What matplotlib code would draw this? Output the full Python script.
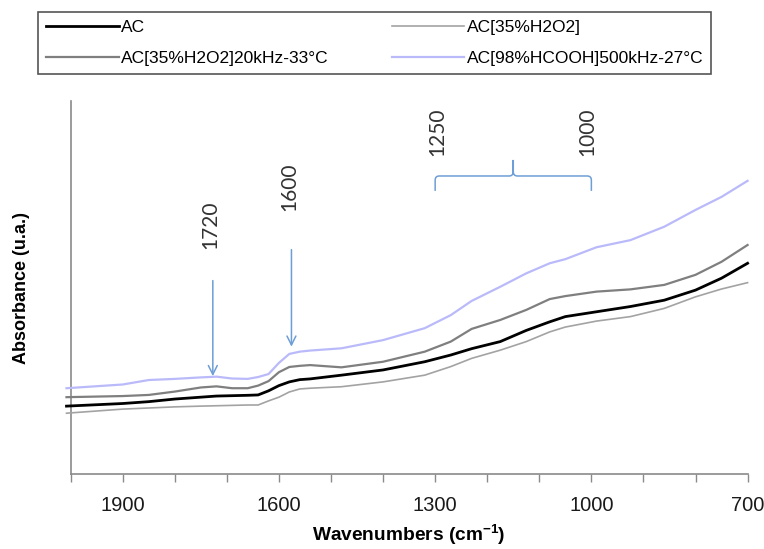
import matplotlib
matplotlib.use("Agg")
import matplotlib.pyplot as plt
from matplotlib.path import Path
from matplotlib.patches import PathPatch

plt.rcParams["font.family"] = ["Liberation Sans", "DejaVu Sans"]
plt.rcParams["mathtext.fontset"] = "custom"
plt.rcParams["mathtext.rm"] = "Liberation Sans:bold"
plt.rcParams["mathtext.default"] = "rm"

# wavenumbers (cm-1)
wavenumber = [2008, 1900, 1850, 1800, 1750, 1720, 1690, 1660, 1640, 1620,
              1600, 1580, 1560, 1540, 1480, 1400, 1320, 1270, 1230, 1175,
              1125, 1080, 1050, 990, 925, 860, 800, 750, 700]

# absorbance (arbitrary units)
abs_ac = [0.182, 0.189, 0.194, 0.201, 0.206, 0.209, 0.210, 0.211, 0.212, 0.223,
          0.237, 0.247, 0.253, 0.255, 0.265, 0.279, 0.301, 0.319, 0.336, 0.355,
          0.385, 0.408, 0.422, 0.435, 0.449, 0.466, 0.493, 0.525, 0.565]
abs_h2o2 = [0.163, 0.174, 0.177, 0.180, 0.182, 0.183, 0.184, 0.185, 0.185, 0.196,
            0.206, 0.220, 0.228, 0.230, 0.234, 0.247, 0.265, 0.288, 0.310, 0.332,
            0.355, 0.381, 0.394, 0.410, 0.422, 0.444, 0.475, 0.496, 0.513]
abs_h2o2_20k = [0.206, 0.209, 0.212, 0.221, 0.232, 0.235, 0.230, 0.230, 0.237, 0.249,
                0.273, 0.287, 0.290, 0.292, 0.286, 0.301, 0.328, 0.355, 0.389, 0.413,
                0.440, 0.469, 0.477, 0.489, 0.495, 0.507, 0.534, 0.569, 0.614]
abs_hcooh_500k = [0.230, 0.240, 0.252, 0.255, 0.259, 0.261, 0.256, 0.255, 0.260, 0.268,
                  0.298, 0.322, 0.328, 0.331, 0.337, 0.359, 0.391, 0.426, 0.464, 0.502,
                  0.538, 0.565, 0.576, 0.608, 0.627, 0.663, 0.708, 0.743, 0.786]

labels = ["AC", "AC[35%H2O2]", "AC[35%H2O2]20kHz-33°C", "AC[98%HCOOH]500kHz-27°C"]

tick_pos = list(range(2000, 699, -100))
tick_lab = ["" if t not in (1900, 1600, 1300, 1000, 700) else str(t) for t in tick_pos]

fig = plt.figure(figsize=(7.64, 5.49), dpi=100)
ax = fig.add_axes([0.0925, 0.1366, 0.886, 0.6794])

l_ac, = ax.plot(wavenumber, abs_ac, color="black", lw=2.0, clip_on=False, zorder=4)
l_h2o2, = ax.plot(wavenumber, abs_h2o2, color="#a3a3a3", lw=1.2, clip_on=False, zorder=3)
l_20k, = ax.plot(wavenumber, abs_h2o2_20k, color="#7f7f7f", lw=1.6, clip_on=False, zorder=3)
l_500k, = ax.plot(wavenumber, abs_hcooh_500k, color="#babafa", lw=1.6, clip_on=False, zorder=3)

ax.set_xlim(2000, 700)
ax.set_ylim(0, 1)
ax.set_xticks(tick_pos)
ax.set_xticklabels(tick_lab)
ax.set_yticks([])
ax.tick_params(axis="x", direction="out", length=6, width=1, color="#8a8a8a",
               labelsize=14.5, pad=10, labelcolor="#1a1a1a")
for side in ("top", "right"):
    ax.spines[side].set_visible(False)
for side in ("left", "bottom"):
    ax.spines[side].set_color("#8a8a8a")
    ax.spines[side].set_linewidth(1.2)

ax.set_xlabel(r"Wavenumbers (cm$^{-1}$)", fontsize=13.8, fontweight="bold")
ax.xaxis.set_label_coords(0.5, -0.13)
ax.set_ylabel("Absorbance (u.a.)", fontsize=13, fontweight="bold")
ax.yaxis.set_label_coords(-0.06, 0.5)

# band annotations
blue = "#6e9ed6"
ann_font = dict(family=["Lato", "DejaVu Sans"], fontsize=15, color="#333333",
                rotation=90, ha="center", va="center")
ax.annotate("", xy=(1727, 0.255), xytext=(1727, 0.526),
            arrowprops=dict(arrowstyle="->", color=blue, lw=1.1, mutation_scale=16))
ax.annotate("", xy=(1576, 0.334), xytext=(1576, 0.609),
            arrowprops=dict(arrowstyle="->", color=blue, lw=1.1, mutation_scale=16))
ax.text(1731, 0.669, "1720", **ann_font)
ax.text(1581, 0.770, "1600", **ann_font)
ax.text(1295, 0.918, "1250", **ann_font)
ax.text(1008, 0.918, "1000", **ann_font)

# brace over the 1300-1000 region
verts = [(1300, 0.759), (1300, 0.788), (1300, 0.799), (1292, 0.799),
         (1158, 0.799), (1150, 0.799), (1150, 0.811), (1150, 0.842),
         (1150, 0.811), (1150, 0.799), (1142, 0.799),
         (1008, 0.799), (1000, 0.799), (1000, 0.788), (1000, 0.759)]
codes = [Path.MOVETO, Path.LINETO, Path.CURVE3, Path.CURVE3,
         Path.LINETO, Path.CURVE3, Path.CURVE3, Path.LINETO,
         Path.LINETO, Path.CURVE3, Path.CURVE3,
         Path.LINETO, Path.CURVE3, Path.CURVE3, Path.LINETO]
ax.add_patch(PathPatch(Path(verts, codes), fill=False, edgecolor=blue, lw=1.1, clip_on=False))

leg = fig.legend([l_ac, l_20k, l_h2o2, l_500k],
                 [labels[0], labels[2], labels[1], labels[3]],
                 ncol=2, mode="expand", loc="upper left",
                 bbox_to_anchor=(0.0501, 0.8676, 0.8805, 0.110),
                 fontsize=12.5, handlelength=4.2, handletextpad=0.12,
                 labelspacing=0.9, borderpad=0.45, borderaxespad=0,
                 fancybox=False, framealpha=1, edgecolor="#555555")
leg.get_frame().set_linewidth(1.2)

fig.savefig("out.png", dpi=100)
